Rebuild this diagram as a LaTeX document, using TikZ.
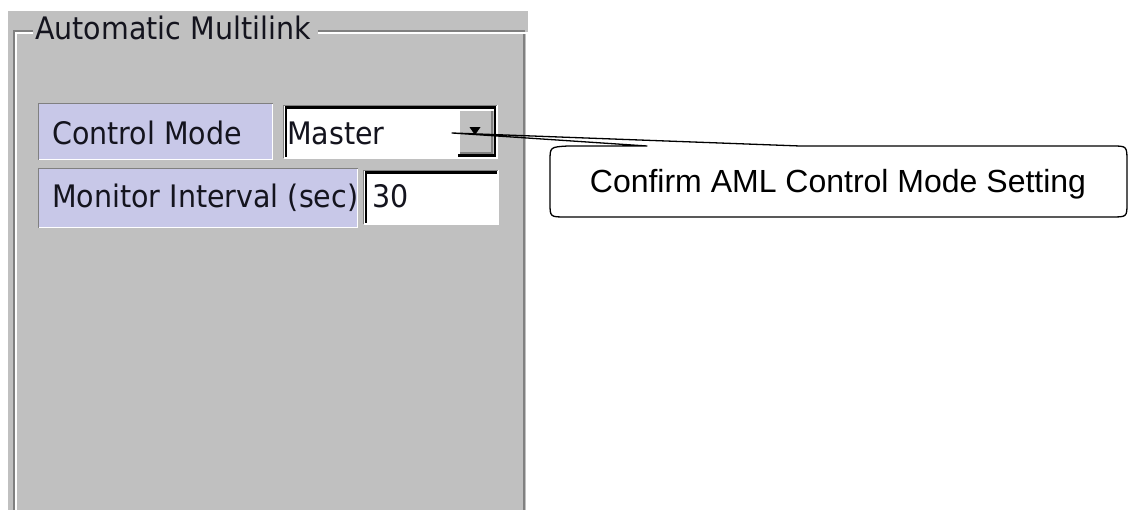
\documentclass[tikz,border=0pt]{standalone}
\usepackage{fontspec}
\usetikzlibrary{shapes.geometric}
\newfontfamily\uifont[FakeStretch=0.92]{DejaVu Sans}
\newfontfamily\callfont{Liberation Sans}
\definecolor{panel}{RGB}{192,192,192}
\definecolor{lav}{RGB}{200,200,232}
\definecolor{grv}{RGB}{128,128,128}
\definecolor{txt}{RGB}{20,20,30}
\begin{document}
\begin{tikzpicture}[x=1pt,y=-1pt,
  ui/.style={font=\uifont\fontsize{31}{33}\selectfont, text=txt, inner sep=0pt, anchor=base west},
  dark/.style={grv, line width=2pt},
  light/.style={white, line width=2pt},
  blk/.style={black, line width=2.5pt},
  calltext/.style={font=\callfont\fontsize{32}{34}\selectfont, inner sep=0pt, anchor=base},
  callline/.style={black, line width=1.3pt, line join=round}]
\useasboundingbox (0,0) rectangle (1128,510);
\fill[white] (0,0) rectangle (1128,510);
% panel
\fill[panel] (8,11) rectangle (528,510);
% etched group frame
\draw[dark] (33,31) -- (14,31) -- (14,510);
\draw[light] (33,33) -- (16,33) -- (16,510);
\draw[dark] (318,31) -- (524,31) -- (524,510);
\draw[light] (318,33) -- (526.5,33) -- (526.5,510);
\node[ui] (title) at (35,39.5) {Automatic Multilink};
% Control Mode label
\fill[lav] (38,103) rectangle (273,160);
\draw[grv, line width=1.5pt] (38.5,160) -- (38.5,103.5) -- (273,103.5);
\draw[white, line width=1.5pt] (38.5,159.5) -- (272.5,159.5) -- (272.5,104);
\node[ui] (cmlabel) at (52,145) {Control Mode};
% Master combo box
\fill[white] (283,105) rectangle (497,158);
\draw[grv, line width=1.5pt] (283.5,158) -- (283.5,105.5) -- (497,105.5);
\draw[blk] (286,157) -- (286,107.5) -- (496,107.5);
\draw[white, line width=1.5pt] (284,158) -- (497.5,158) -- (497.5,105);
\node[ui] (master) at (287,145) {Master};
% dropdown button
\fill[panel] (458,109) rectangle (495,156);
\draw[white, line width=2pt] (459,155) -- (459,110) -- (494,110);
\draw[grv, line width=2pt] (460,153) -- (492,153) -- (492,111);
\draw[black, line width=2.5pt] (458,155.5) -- (495,155.5) -- (495,107);
\node[fill=black, isosceles triangle, isosceles triangle apex angle=70, shape border rotate=-90,
      minimum width=11pt, minimum height=6pt, inner sep=0pt] (arrowtri) at (475,130) {};
% Monitor Interval label
\fill[lav] (38,168) rectangle (358,228);
\draw[grv, line width=1.5pt] (38.5,228) -- (38.5,168.5) -- (358,168.5);
\draw[white, line width=1.5pt] (38.5,227.5) -- (357.5,227.5) -- (357.5,169);
\node[ui] (milabel) at (52,208) {Monitor Interval (sec)};
% 30 field
\fill[white] (363,170) rectangle (498,224);
\draw[grv, line width=1.5pt] (363.5,224) -- (363.5,170.5) -- (498,170.5);
\draw[blk] (366,223) -- (366,172.5) -- (497,172.5);
\draw[white, line width=1.5pt] (364,224) -- (498.5,224) -- (498.5,170);
\node[ui] (thirty) at (372,208) {30};
% callout
\coordinate (tip) at (452,133);
\node[calltext] (call) at (838,193) {Confirm AML Control Mode Setting};
\draw[callline] (647,146) -- (tip) -- (800,146) -- (1112,146)
  .. controls (1127,146) .. (1127,162) -- (1127,203)
  .. controls (1127,217) .. (1111,217) -- (566,217)
  .. controls (550,217) .. (550,203) -- (550,161)
  .. controls (550,147) .. (568,146) -- cycle;
\end{tikzpicture}
\end{document}
